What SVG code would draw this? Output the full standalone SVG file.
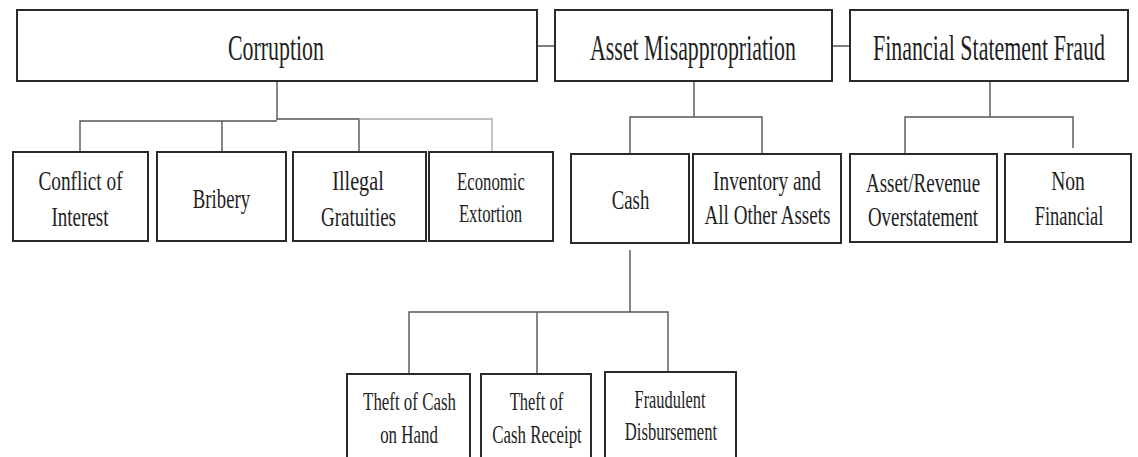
<svg xmlns="http://www.w3.org/2000/svg" width="1138" height="457" viewBox="0 0 1138 457">
<style>
.box{fill:#fff;stroke:#2a2a2a;stroke-width:2}
.t{font-family:"Liberation Serif","Times New Roman",serif;fill:#1e1e1e;text-anchor:middle}
.top{font-size:35px}
.mid{font-size:28px}
.sm{font-size:25px}
.bot{font-size:26px}
.c{fill:none;stroke:#555;stroke-width:1.4}
.cl{fill:none;stroke:#aaa;stroke-width:1.4}
</style>
<rect width="1138" height="457" fill="#fff"/>
<g id="connectors">
<path class="c" d="M537 46H555M832 46H850"/>
<path class="c" d="M277 81V120M80 153V121H277M222 121V153M277 119H359V153"/>
<path class="cl" d="M359 119H492V153"/>
<path class="c" d="M694 81V117M630 154V117H762V154"/>
<path class="c" d="M990 81V117M905 153V117H1073V148"/>
<path class="c" d="M630 250V312M409 374V312H668V372M537 312V374"/>
</g>
<g id="corruption"><rect class="box" x="17" y="10" width="520" height="71"/><text class="t top" transform="translate(276 60) scale(0.625 1)">Corruption</text></g>
<g id="asset-misappropriation"><rect class="box" x="555" y="10" width="277" height="71"/><text class="t top" transform="translate(693 60) scale(0.625 1)">Asset Misappropriation</text></g>
<g id="financial-statement-fraud"><rect class="box" x="850" y="10" width="278" height="71"/><text class="t top" transform="translate(989 60) scale(0.628 1)">Financial Statement Fraud</text></g>
<g id="conflict-of-interest"><rect class="box" x="13" y="152" width="135" height="89"/><text class="t mid" transform="translate(80.5 190) scale(0.69 1)">Conflict of</text><text class="t mid" transform="translate(80 226) scale(0.68 1)">Interest</text></g>
<g id="bribery"><rect class="box" x="157" y="152" width="129" height="89"/><text class="t mid" transform="translate(221.5 208) scale(0.67 1)">Bribery</text></g>
<g id="illegal-gratuities"><rect class="box" x="293" y="152" width="133" height="89"/><text class="t mid" transform="translate(358 190) scale(0.72 1)">Illegal</text><text class="t mid" transform="translate(358.5 226) scale(0.68 1)">Gratuities</text></g>
<g id="economic-extortion"><rect class="box" x="429" y="152" width="124" height="89"/><text class="t sm" transform="translate(491 190) scale(0.67 1)">Economic</text><text class="t sm" transform="translate(490.5 222) scale(0.67 1)">Extortion</text></g>
<g id="cash"><rect class="box" x="571" y="154" width="118" height="89"/><text class="t mid" transform="translate(630.5 209) scale(0.67 1)">Cash</text></g>
<g id="inventory"><rect class="box" x="693" y="154" width="148" height="89"/><text class="t mid" transform="translate(767 190) scale(0.69 1)">Inventory and</text><text class="t mid" transform="translate(767.5 224) scale(0.68 1)">All Other Assets</text></g>
<g id="asset-revenue"><rect class="box" x="850" y="154" width="147" height="88"/><text class="t mid" transform="translate(923 192) scale(0.68 1)">Asset/Revenue</text><text class="t mid" transform="translate(923 226) scale(0.675 1)">Overstatement</text></g>
<g id="non-financial"><rect class="box" x="1005" y="154" width="126" height="88"/><text class="t mid" transform="translate(1068 190) scale(0.7 1)">Non</text><text class="t mid" transform="translate(1069 225) scale(0.66 1)">Financial</text></g>
<g id="theft-cash-on-hand"><rect class="box" x="347" y="374" width="123" height="90"/><text class="t bot" transform="translate(409.5 410) scale(0.65 1)">Theft of Cash</text><text class="t bot" transform="translate(409 443) scale(0.65 1)">on Hand</text></g>
<g id="theft-cash-receipt"><rect class="box" x="481" y="374" width="110" height="90"/><text class="t bot" transform="translate(536.5 410) scale(0.635 1)">Theft of</text><text class="t bot" transform="translate(537 443) scale(0.65 1)">Cash Receipt</text></g>
<g id="fraudulent-disbursement"><rect class="box" x="605" y="372" width="131" height="92"/><text class="t bot" transform="translate(670 408) scale(0.63 1)">Fraudulent</text><text class="t bot" transform="translate(671 440) scale(0.64 1)">Disbursement</text></g>
</svg>
